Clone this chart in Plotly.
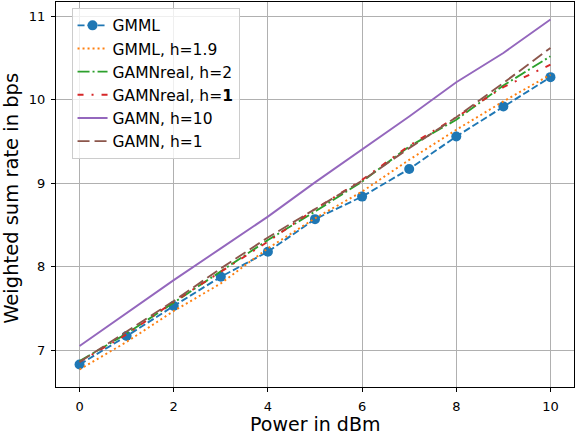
import plotly.graph_objects as go

power = [0, 1, 2, 3, 4, 5, 6, 7, 8, 9, 10]
gmml = [6.83, 7.17, 7.53, 7.88, 8.18, 8.57, 8.84, 9.17, 9.56, 9.92, 10.27]
gmml_h19 = [6.77, 7.10, 7.47, 7.80, 8.22, 8.58, 8.90, 9.28, 9.64, 9.98, 10.30]
gamnreal_h2 = [6.87, 7.20, 7.57, 7.95, 8.32, 8.66, 9.02, 9.44, 9.76, 10.17, 10.52]
gamnreal_h1 = [6.86, 7.19, 7.58, 7.94, 8.30, 8.69, 9.04, 9.45, 9.79, 10.15, 10.42]
gamn_h10 = [7.05, 7.45, 7.84, 8.22, 8.60, 9.01, 9.40, 9.80, 10.21, 10.56, 10.96]
gamn_h1 = [6.86, 7.22, 7.59, 7.98, 8.35, 8.69, 9.03, 9.42, 9.79, 10.20, 10.62]

names = ["GMML", "GMML, h=1.9", "GAMNreal, h=2", "GAMNreal, h=<b>1</b>", "GAMN, h=10", "GAMN, h=1"]
series = [gmml, gmml_h19, gamnreal_h2, gamnreal_h1, gamn_h10, gamn_h1]
colors = ["#1f77b4", "#ff7f0e", "#2ca02c", "#d62728", "#9467bd", "#8c564b"]
dashes = ["7px,3px", "2px,3px", "12px,3px,2px,3px", "6px,8px,2px,8px", "solid", "12px,5px"]

fig = go.Figure()
for i, (nm, ys) in enumerate(zip(names, series)):
    fig.add_trace(go.Scatter(
        x=power, y=ys, name=nm,
        mode="lines+markers" if i == 0 else "lines",
        line=dict(color=colors[i], width=1.9, dash=dashes[i]),
        marker=dict(size=10, color=colors[i]) if i == 0 else None,
    ))

axis_common = dict(
    showgrid=True, gridcolor="#b0b0b0", gridwidth=1,
    showline=True, linecolor="black", linewidth=1.2, mirror=True,
    ticks="outside", ticklen=4, tickwidth=1, tickcolor="black",
    zeroline=False, automargin=False, ticklabelstandoff=3,
    tickfont=dict(family="DejaVu Sans", size=13, color="black"),
)

fig.update_layout(
    width=576, height=432,
    margin=dict(l=56, r=2, t=2, b=45),
    paper_bgcolor="white", plot_bgcolor="white",
    font=dict(family="DejaVu Sans", color="black"),
    xaxis=dict(range=[-0.5, 10.5], tickvals=[0, 2, 4, 6, 8, 10], **axis_common),
    yaxis=dict(range=[6.56, 11.17], tickvals=[7, 8, 9, 10, 11], **axis_common),
    legend=dict(x=0.03, y=0.985, xanchor="left", yanchor="top",
                bgcolor="rgba(255,255,255,0.8)", bordercolor="#cccccc", borderwidth=1,
                font=dict(family="DejaVu Sans", size=15.5), tracegroupgap=0),
    showlegend=True,
    annotations=[
        dict(text="Power in dBm", xref="paper", yref="paper", x=0.5, y=-0.062,
             xanchor="center", yanchor="top", showarrow=False,
             font=dict(family="DejaVu Sans", size=19, color="black")),
        dict(text="Weighted sum rate in bps", xref="paper", yref="paper", x=-0.086, y=0.49,
             xanchor="center", yanchor="middle", textangle=-90, showarrow=False,
             font=dict(family="DejaVu Sans", size=19.5, color="black")),
    ],
)

fig.write_html("out.html", config={"displayModeBar": False},
               post_script="document.body.style.margin='0';")
